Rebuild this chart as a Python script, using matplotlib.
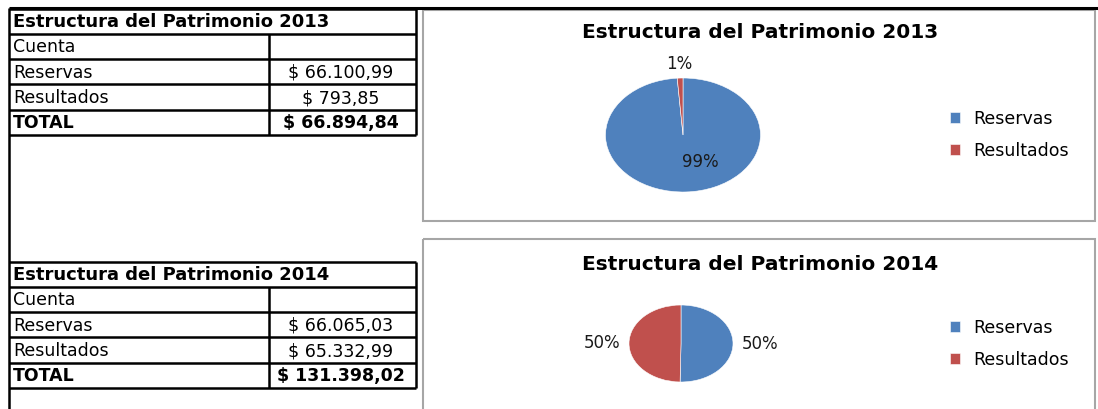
import matplotlib.pyplot as plt
from matplotlib.patches import Rectangle

cuentas = ['Reservas', 'Resultados']
patrimonio_2013 = [66100.99, 793.85]
patrimonio_2014 = [66065.03, 65332.99]
total_2013 = 66894.84
total_2014 = 131398.02
colores = ['#4F81BD', '#C0504D']

W, H = 1098, 409
plt.rcParams['font.family'] = 'DejaVu Sans'


def moneda(v):
    # formato 66.100,99
    s = f'{v:,.2f}'.replace(',', '_').replace('.', ',').replace('_', '.')
    return '$ ' + s


fig = plt.figure(figsize=(W / 100, H / 100), dpi=100)
bg = fig.add_axes([0, 0, 1, 1])
bg.set_xlim(0, W)
bg.set_ylim(H, 0)
bg.axis('off')

lw = 1.8
x0, xm, x1 = 9, 269, 416
fs = 12.5

# linea superior y borde izquierdo de la hoja
bg.hlines(8, x0, W, color='black', lw=2.2)
bg.vlines(x0, 8, H, color='black', lw=lw)


def tabla(top, anio, valores, total):
    filas = [top + i * 25.3 for i in range(6)]
    for y in filas:
        bg.hlines(y, x0, x1, color='black', lw=lw)
    bg.vlines(x1, filas[0], filas[-1], color='black', lw=lw)
    bg.vlines(xm, filas[1], filas[-1], color='black', lw=lw)
    cy = [(filas[i] + filas[i + 1]) / 2 + 1 for i in range(5)]
    bg.text(13, cy[0], f'Estructura del Patrimonio {anio}', fontsize=13,
            fontweight='bold', va='center')
    bg.text(13, cy[1], 'Cuenta', fontsize=fs, va='center')
    for i, (c, v) in enumerate(zip(cuentas, valores)):
        bg.text(13, cy[2 + i], c, fontsize=fs, va='center')
        bg.text((xm + x1) / 2 - 2, cy[2 + i], moneda(v), fontsize=fs,
                va='center', ha='center')
    bg.text(13, cy[4], 'TOTAL', fontsize=fs, fontweight='bold', va='center')
    bg.text((xm + x1) / 2 - 2, cy[4], moneda(total), fontsize=fs,
            fontweight='bold', va='center', ha='center')


tabla(8.5, 2013, patrimonio_2013, total_2013)
tabla(261.5, 2014, patrimonio_2014, total_2014)

# marcos de los graficos
for y0, y1 in [(10, 221), (239, 412)]:
    bg.add_patch(Rectangle((423, y0), 1095 - 423, y1 - y0, fill=False,
                           edgecolor='#A6A6A6', lw=1.5))


def torta(caja, valores, anio, titulo_y, pct, leyenda_y):
    a, b, c, d = caja
    ax = fig.add_axes([a / W, 1 - d / H, (c - a) / W, (d - b) / H])
    wedges, _, autotexts = ax.pie(
        valores, colors=colores, startangle=90, counterclock=False,
        autopct='%.0f%%', pctdistance=pct,
        wedgeprops=dict(edgecolor='white', linewidth=0.4),
        textprops=dict(fontsize=12, color='#1a1a1a'))
    ax.set_aspect('auto')
    ax.set_xlim(-1, 1)
    ax.set_ylim(-1, 1)
    bg.text(760, titulo_y, f'Estructura del Patrimonio {anio}',
            fontsize=14.5, fontweight='bold', ha='center', va='center')
    fig.legend(wedges, cuentas, loc='center left',
               bbox_to_anchor=(950 / W, 1 - leyenda_y / H), frameon=False,
               fontsize=12.5, handlelength=0.6, handleheight=0.6,
               labelspacing=0.8, handletextpad=0.75, borderpad=0,
               borderaxespad=0)
    return autotexts


t13 = torta((605.5, 78, 760.5, 192), patrimonio_2013, 2013, 33, 0.5, 135)
x, y = t13[1].get_position()
t13[1].set_position((x * 2.5, y * 2.5))
t13[0].set_position((0.22, -0.48))

torta((629, 305, 733, 382), patrimonio_2014, 2014, 265, 1.52, 344)

fig.savefig('out.png', dpi=100)
